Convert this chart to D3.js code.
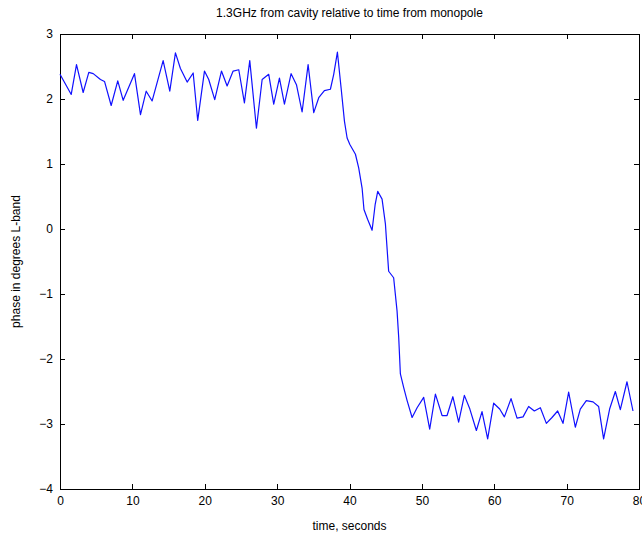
<!DOCTYPE html>
<html>
<head>
<meta charset="utf-8">
<script src="https://cdn.jsdelivr.net/npm/d3@7"></script>
<style>
  body { margin: 0; background: #fff; }
  svg { display: block; }
  .axis text { font-family: "Liberation Sans", Arial, sans-serif; font-size: 12px; fill: #000; }
  .axis line, .axis path { stroke: #000; shape-rendering: crispEdges; }
</style>
</head>
<body>
<div id="main_plot"></div>
<script>
// chart texts
var title_text = "1.3GHz from cavity relative to time from monopole";
var x_label = "time, seconds";
var y_label = "phase in degrees L-band";

// tick values
var x_ticks = [0, 10, 20, 30, 40, 50, 60, 70, 80];
var y_ticks = [-4, -3, -2, -1, 0, 1, 2, 3];

// series
var time_s = [0, 1.55, 2.28, 3.2, 3.98, 4.59, 5.59, 6.15, 7.07, 7.98, 8.73, 10.29, 11.12, 11.91, 12.73,
  14.25, 15.17, 15.95, 16.64, 17.57, 18.4, 19.03, 19.96, 20.55, 21.38, 22.31, 23.09, 23.92, 24.7,
  25.48, 26.22, 27.14, 27.93, 28.84, 29.53, 30.32, 31.01, 31.93, 32.67, 33.45, 34.28, 35.06, 35.75,
  36.53, 37.36, 37.82, 38.33, 38.84, 39.3, 39.67, 40.05, 40.82, 41.27, 41.74, 42.0, 42.5, 43.12,
  43.55, 43.9, 44.5, 44.96, 45.1, 45.41, 46.1, 46.57, 46.8, 47.03, 47.49, 47.96, 48.65, 49.34, 50.25, 51.08,
  51.87, 52.79, 53.48, 54.28, 55.08, 55.87, 56.63, 57.53, 58.31, 59.09, 59.92, 60.75, 61.4, 62.32,
  63.15, 63.98, 64.75, 65.54, 66.37, 67.2, 67.98, 68.76, 69.5, 70.28, 71.2, 71.89, 72.72, 73.65,
  74.42, 75.11, 75.94, 76.73, 77.42, 78.34, 79.17];
var phase_deg = [2.38, 2.07, 2.53, 2.1, 2.41, 2.39, 2.3, 2.27, 1.9, 2.28, 1.98, 2.39, 1.76, 2.12, 1.97,
  2.59, 2.12, 2.71, 2.47, 2.26, 2.4, 1.67, 2.43, 2.3, 1.99, 2.43, 2.2, 2.43, 2.45,
  1.94, 2.59, 1.55, 2.3, 2.38, 1.92, 2.32, 1.92, 2.39, 2.22, 1.8, 2.53, 1.79, 2.02,
  2.13, 2.15, 2.38, 2.72, 2.17, 1.66, 1.4, 1.3, 1.15, 0.94, 0.63, 0.3, 0.15, -0.02,
  0.38, 0.58, 0.46, 0.08, -0.15, -0.65, -0.75, -1.26, -1.67, -2.23, -2.44, -2.64, -2.9, -2.75, -2.59, -3.08,
  -2.54, -2.87, -2.87, -2.58, -2.97, -2.56, -2.77, -3.1, -2.81, -3.23, -2.68, -2.77, -2.89, -2.61,
  -2.91, -2.89, -2.73, -2.8, -2.75, -2.99, -2.9, -2.8, -2.99, -2.51, -3.05, -2.77, -2.64, -2.66,
  -2.73, -3.23, -2.77, -2.5, -2.78, -2.35, -2.8];

var data = time_s.map(function(t, i) { return [t, phase_deg[i]]; });

// set the dimensions and margins of the graph
var margin = {top: 34, right: 3, bottom: 45, left: 60},
    width = 642 - margin.left - margin.right,
    height = 534 - margin.top - margin.bottom;

var svg = d3.select("div#main_plot")
  .append("svg")
  .attr("width", 642)
  .attr("height", 534)
  .append("g")
    .attr("transform", "translate(" + margin.left + "," + margin.top + ")");

var x = d3.scaleLinear().domain([0, 80]).range([0, width]);
var y = d3.scaleLinear().domain([-4, 3]).range([height, 0]);

var tick_len = 5;

// bottom axis
svg.append("g")
    .attr("class", "axis")
    .attr("transform", "translate(0," + height + ")")
    .call(d3.axisBottom(x).tickValues(x_ticks).tickSize(-tick_len).tickSizeOuter(0).tickPadding(7));

// left axis
svg.append("g")
    .attr("class", "axis")
    .call(d3.axisLeft(y).tickValues(y_ticks).tickSize(-tick_len).tickSizeOuter(0).tickPadding(7)
      .tickFormat(function(d) { return d < 0 ? "\u2212" + Math.abs(d) : d; }));

// top and right box ticks
svg.append("g")
    .attr("class", "axis")
    .call(d3.axisTop(x).tickValues(x_ticks).tickSize(-tick_len).tickSizeOuter(0).tickFormat(""));
svg.append("g")
    .attr("class", "axis")
    .attr("transform", "translate(" + width + ",0)")
    .call(d3.axisRight(y).tickValues(y_ticks).tickSize(-tick_len).tickSizeOuter(0).tickFormat(""));

// the line
svg.append("path")
    .datum(data)
    .attr("fill", "none")
    .attr("stroke", "#1010ff")
    .attr("stroke-width", 1.2)
    .attr("stroke-linejoin", "round")
    .attr("d", d3.line()
      .x(function(d) { return x(d[0]); })
      .y(function(d) { return y(d[1]); }));

// title and axis labels
svg.append("text")
    .attr("x", width / 2)
    .attr("y", -17)
    .attr("text-anchor", "middle")
    .attr("font-family", "Liberation Sans, Arial, sans-serif")
    .attr("font-size", 12)
    .text(title_text);

svg.append("text")
    .attr("x", width / 2)
    .attr("y", height + 41)
    .attr("text-anchor", "middle")
    .attr("font-family", "Liberation Sans, Arial, sans-serif")
    .attr("font-size", 12)
    .text(x_label);

svg.append("text")
    .attr("transform", "translate(" + (-margin.left + 20) + "," + (height / 2) + ") rotate(-90)")
    .attr("text-anchor", "middle")
    .attr("font-family", "Liberation Sans, Arial, sans-serif")
    .attr("font-size", 12)
    .text(y_label);
</script>
</body>
</html>
